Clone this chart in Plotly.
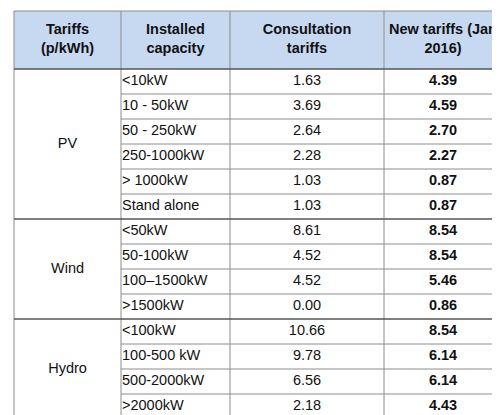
import plotly.graph_objects as go

headers = ["<b>Tariffs<br>(p/kWh)</b>", "<b>Installed<br>capacity</b>",
           "<b>Consultation<br>tariffs</b>", "<b>New tariffs (Jan<br>2016)</b>"]
groups = ["PV", "Wind", "Hydro"]
group_sizes = [6, 4, 4]
capacity = ["<10kW", "10 - 50kW", "50 - 250kW", "250-1000kW", "> 1000kW", "Stand alone",
            "<50kW", "50-100kW", "100\u20131500kW", ">1500kW",
            "<100kW", "100-500 kW", "500-2000kW", ">2000kW"]
consultation = [1.63, 3.69, 2.64, 2.28, 1.03, 1.03, 8.61, 4.52, 4.52, 0.00,
                10.66, 9.78, 6.56, 2.18]
new_tariffs = [4.39, 4.59, 2.70, 2.27, 0.87, 0.87, 8.54, 8.54, 5.46, 0.86,
               8.54, 6.14, 6.14, 4.43]

col_x = [6, 113, 222, 376, 494]
top, head_bot, row_h = 3, 61, 25
n = len(capacity)
bottom = head_bot + n * row_h
font = dict(family="Liberation Sans, Arial", size=14.5, color="#111")
line_c = "#8c8c8c"

shapes = [dict(type="rect", x0=col_x[0], x1=col_x[-1], y0=top, y1=head_bot,
               fillcolor="#c6d9f1", line=dict(width=0), layer="below")]
for x in col_x:
    shapes.append(dict(type="line", x0=x, x1=x, y0=top, y1=bottom, line=dict(color=line_c, width=1)))
shapes.append(dict(type="line", x0=col_x[0], x1=col_x[-1], y0=top, y1=top, line=dict(color=line_c, width=1)))
shapes.append(dict(type="line", x0=col_x[0], x1=col_x[-1], y0=head_bot, y1=head_bot, line=dict(color="#555", width=1.5)))

group_y = []
start = 0
for size in group_sizes:
    for i in range(1, size):
        y = head_bot + (start + i) * row_h
        shapes.append(dict(type="line", x0=col_x[1], x1=col_x[-1], y0=y, y1=y, line=dict(color=line_c, width=1)))
    end = head_bot + (start + size) * row_h
    shapes.append(dict(type="line", x0=col_x[0], x1=col_x[-1], y0=end, y1=end, line=dict(color="#555", width=1.5)))
    group_y.append(head_bot + (start + size / 2) * row_h)
    start += size

row_y = [head_bot + (i + 0.5) * row_h for i in range(n)]
fig = go.Figure()
fig.add_trace(go.Scatter(x=[(col_x[i] + col_x[i + 1]) / 2 for i in range(4)], y=[(top + head_bot) / 2] * 4,
                         mode="text", text=headers, textfont=font))
fig.add_trace(go.Scatter(x=[(col_x[0] + col_x[1]) / 2] * 3, y=group_y, mode="text", text=groups, textfont=font))
fig.add_trace(go.Scatter(x=[col_x[1] + 1] * n, y=row_y, mode="text", text=capacity,
                         textposition="middle right", textfont=font))
fig.add_trace(go.Scatter(x=[(col_x[2] + col_x[3]) / 2] * n, y=row_y, mode="text",
                         text=["%.2f" % v for v in consultation], textfont=font))
fig.add_trace(go.Scatter(x=[(col_x[3] + col_x[4]) / 2] * n, y=row_y, mode="text",
                         text=["<b>%.2f</b>" % v for v in new_tariffs], textfont=font))

fig.update_layout(width=500, height=415, margin=dict(l=0, r=0, t=0, b=0),
                  plot_bgcolor="white", paper_bgcolor="white", showlegend=False, shapes=shapes,
                  xaxis=dict(range=[0, 500], visible=False, fixedrange=True),
                  yaxis=dict(range=[415, 0], visible=False, fixedrange=True))
fig.write_html("out.html", config={"displayModeBar": False})
